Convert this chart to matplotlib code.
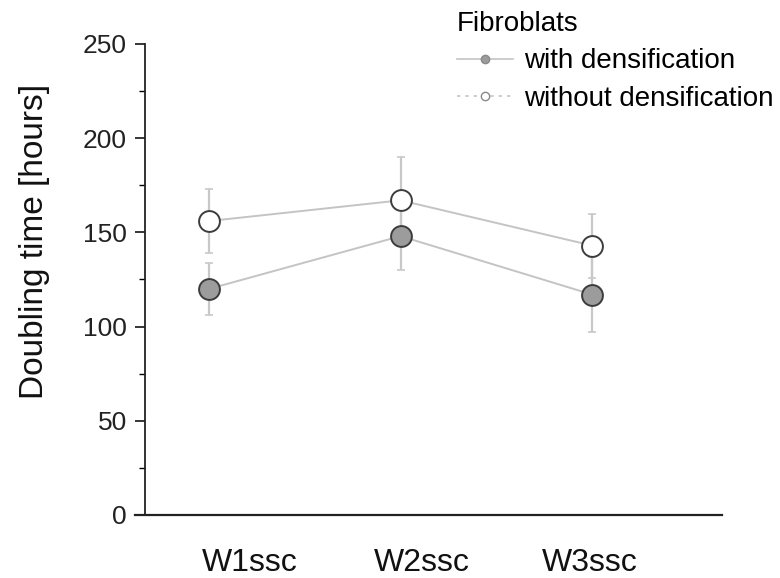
import numpy as np
import matplotlib.pyplot as plt
from matplotlib.ticker import MultipleLocator
from matplotlib.lines import Line2D

plt.rcParams['font.family'] = ['Liberation Sans', 'DejaVu Sans']

groups = ['W1ssc', 'W2ssc', 'W3ssc']
with_dens = [120, 148, 117]      # grey circles
with_err = [14, 18, 20]
without_dens = [156, 167, 143]   # open circles
without_err = [17, 23, 17]

x = np.arange(1, len(groups) + 1)

fig = plt.figure(figsize=(7.8, 5.78), dpi=100)
ax = fig.add_axes([0.186, 0.109, 0.740, 0.815])

line_c = '#c4c4c4'
edge_c = '#3c3c3c'

ax.errorbar(x, with_dens, yerr=with_err, fmt='none', ecolor='#c8c8c8',
            elinewidth=1.6, capsize=3, capthick=1.2, zorder=1)
ax.errorbar(x, without_dens, yerr=without_err, fmt='none', ecolor='#c8c8c8',
            elinewidth=1.6, capsize=3, capthick=1.2, zorder=1)
ax.plot(x, with_dens, '-', color=line_c, lw=1.4, zorder=2)
ax.plot(x, without_dens, '-', color=line_c, lw=1.4, zorder=2)
ax.plot(x, with_dens, 'o', ms=15, mfc='#9c9c9c', mec=edge_c, mew=1.4, zorder=3)
ax.plot(x, without_dens, 'o', ms=15, mfc='white', mec=edge_c, mew=1.4, zorder=3)

ax.set_xlim(0.666, 3.68)
ax.set_ylim(0, 250)
ax.spines['top'].set_visible(False)
ax.spines['right'].set_visible(False)
ax.spines['left'].set_linewidth(1.3)
ax.spines['bottom'].set_linewidth(1.6)
ax.spines['bottom'].set_bounds(0.614, 3.68)
ax.spines['left'].set_color('#222222')
ax.spines['bottom'].set_color('#222222')

ax.yaxis.set_major_locator(MultipleLocator(50))
ax.yaxis.set_minor_locator(MultipleLocator(25))
ax.tick_params(axis='y', which='major', length=7, width=1.1, labelsize=19, pad=6,
               labelcolor='#222222')
ax.tick_params(axis='y', which='minor', length=4, width=1.0)

# category labels sit slightly off the markers in the original
ax.set_xticks([1.215, 2.11, 2.99])
ax.set_xticklabels(groups, fontsize=23, color='#111111')
ax.tick_params(axis='x', length=0, pad=24)

ax.set_ylabel('Doubling time [hours]', fontsize=24, color='#111111')
ax.yaxis.set_label_coords(-0.165, 0.58)

handles = [
    Line2D([], [], color=line_c, lw=1.2, marker='o', ms=6, mfc='#9c9c9c', mec='#8a8a8a'),
    Line2D([], [], color=line_c, lw=1.2, ls=(0, (2, 3)), marker='o', ms=6, mfc='white', mec='#8a8a8a'),
]
leg = fig.legend(handles, ['with densification', 'without densification'],
                 title='Fibroblats', loc='upper left', bbox_to_anchor=(0.561, 1.014),
                 frameon=False, fontsize=20, title_fontsize=20, alignment='left',
                 handlelength=2.0, handletextpad=0.4, labelspacing=0.4,
                 borderpad=0.2)

fig.savefig('out.png', dpi=100)
